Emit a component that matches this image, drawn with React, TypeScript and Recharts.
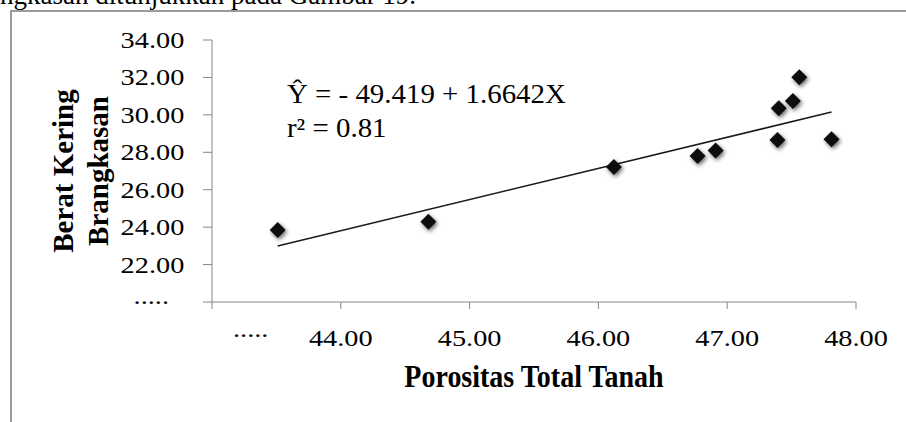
import React from "react";
import { ScatterChart, Scatter, XAxis, YAxis } from "recharts";

const xTicks = [43, 44, 45, 46, 47, 48];
const yTicks = [20, 22, 24, 26, 28, 30, 32, 34];
const porositas = [43.51, 44.68, 46.12, 46.77, 46.91, 47.39, 47.4, 47.51, 47.56, 47.81];
const berat = [23.85, 24.29, 27.22, 27.8, 28.09, 28.66, 30.35, 30.74, 32.01, 28.7];
const trendX = [43.51, 47.81];
const trendY = [22.99, 30.15];
const equationText = "Ŷ = - 49.419 + 1.6642X";
const r2Text = "r² = 0.81";
const xTitle = "Porositas Total Tanah";
const yTitle1 = "Berat Kering";
const yTitle2 = "Brangkasan";
const topText = "angkasan ditunjukkan pada Gambar 19.";

const points = porositas.map((x, i) => ({ x, y: berat[i] }));
const trend = trendX.map((x, i) => ({ x, y: trendY[i] }));

const FONT = "'Liberation Serif', 'Times New Roman', serif";
const AXIS = "#878787";
const SX = 1.18;

const fmt = (v: number, min: number) => (v === min ? "....." : v.toFixed(2));

const XTick = (props: any) => {
  const { x, y, payload } = props;
  const v = payload.value;
  if (v === xTicks[0]) {
    return (
      <text transform={`translate(${x + 21},${y + 28}) scale(${SX},1)`} fontFamily={FONT} fontSize={24} fill="#000" textAnchor="start">
        .....
      </text>
    );
  }
  return (
    <text transform={`translate(${x},${y + 37}) scale(${SX},1)`} fontFamily={FONT} fontSize={24} fill="#000" textAnchor="middle">
      {fmt(v, xTicks[0])}
    </text>
  );
};

const YTick = (props: any) => {
  const { x, y, payload } = props;
  const v = payload.value;
  if (v === yTicks[0]) {
    return (
      <text transform={`translate(${x - 34},${y + 1.5}) scale(${SX},1)`} fontFamily={FONT} fontSize={24} fill="#000" textAnchor="end">
        .....
      </text>
    );
  }
  return (
    <text transform={`translate(${x - 18.7},${y + 8}) scale(${SX},1)`} fontFamily={FONT} fontSize={24} fill="#000" textAnchor="end">
      {fmt(v, yTicks[0])}
    </text>
  );
};

const Diamond = (props: any) => {
  const { cx, cy } = props;
  if (cx == null || cy == null) return <g />;
  const r = 8;
  const pts = `${cx},${cy - r} ${cx + r},${cy} ${cx},${cy + r} ${cx - r},${cy}`;
  const spts = `${cx + 1.5},${cy - r + 2} ${cx + r + 1.5},${cy + 2} ${cx + 1.5},${cy + r + 2} ${cx - r + 1.5},${cy + 2}`;
  return (
    <g>
      <defs>
        <filter id="dshadow" x="-50%" y="-50%" width="200%" height="200%">
          <feGaussianBlur stdDeviation="2" />
        </filter>
      </defs>
      <polygon points={spts} fill="#000" opacity={0.6} filter="url(#dshadow)" />
      <polygon points={pts} fill="#0d0d0d" />
    </g>
  );
};

const NoShape = () => <g />;

export default function App() {
  return (
    <div style={{ position: "absolute", left: 0, top: 0, width: 906, height: 422, background: "#fff", overflow: "hidden" }}>
      <div
        style={{
          position: "absolute",
          left: -12,
          top: -18,
          fontFamily: FONT,
          fontSize: 27,
          whiteSpace: "nowrap",
          color: "#000",
          lineHeight: "27px",
        }}
      >
        {topText}
      </div>
      <div
        style={{
          position: "absolute",
          left: 10,
          top: 10,
          right: 0,
          bottom: 0,
          borderTop: "2px solid #9b9b9b",
          borderLeft: "2px solid #9b9b9b",
        }}
      />
      <div style={{ position: "absolute", left: 0, top: 0 }}>
        <ScatterChart width={906} height={422} margin={{ top: 40, right: 50, bottom: 0, left: 0 }}>
          <XAxis
            type="number"
            dataKey="x"
            domain={[43, 48]}
            ticks={xTicks}
            allowDataOverflow
            stroke={AXIS}
            tickLine={{ stroke: AXIS }}
            tickSize={7}
            tickMargin={0}
            height={120}
            tick={<XTick />}
            interval={0}
          />
          <YAxis
            type="number"
            dataKey="y"
            domain={[20, 34]}
            ticks={yTicks}
            allowDataOverflow
            stroke={AXIS}
            tickLine={{ stroke: AXIS }}
            tickSize={9}
            tickMargin={0}
            width={212}
            tick={<YTick />}
            interval={0}
          />
          <Scatter data={trend} line={{ stroke: "#1a1a1a", strokeWidth: 1.5 }} shape={<NoShape />} isAnimationActive={false} />
          <Scatter data={points} shape={<Diamond />} isAnimationActive={false} />
          <text transform={`translate(287,103.3) scale(1.07,1)`} fontFamily={FONT} fontSize={27} fill="#000">
            {equationText}
          </text>
          <text transform={`translate(287,136.7) scale(1.07,1)`} fontFamily={FONT} fontSize={27} fill="#000">
            {r2Text}
          </text>
          <text transform={`translate(534,387) scale(1,1.1)`} fontFamily={FONT} fontSize={28} fontWeight="bold" fill="#000" textAnchor="middle">
            {xTitle}
          </text>
          <text transform={`translate(72.7,171) rotate(-90)`} fontFamily={FONT} fontSize={29} fontWeight="bold" fill="#000" textAnchor="middle">
            {yTitle1}
          </text>
          <text transform={`translate(108,171) rotate(-90)`} fontFamily={FONT} fontSize={29} fontWeight="bold" fill="#000" textAnchor="middle">
            {yTitle2}
          </text>
        </ScatterChart>
      </div>
    </div>
  );
}
